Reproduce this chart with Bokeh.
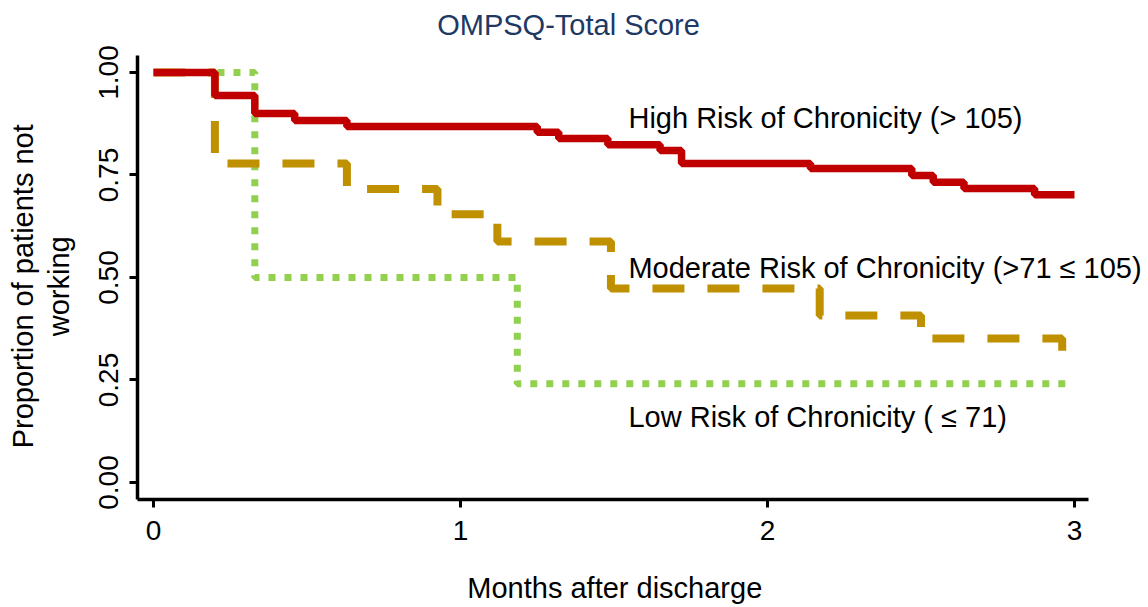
from bokeh.plotting import figure
from bokeh.models import Range1d, FixedTicker, PrintfTickFormatter, Label
from bokeh.embed import file_html
from bokeh.resources import INLINE

# ---- data ----
high_t = [0.00, 0.20, 0.33, 0.46, 0.63, 1.25, 1.32, 1.48, 1.65, 1.72, 2.14, 2.47, 2.54, 2.64, 2.87, 3.00]
high_s = [1.000, 0.944, 0.900, 0.883, 0.868, 0.854, 0.839, 0.824, 0.810, 0.778, 0.766, 0.749, 0.732, 0.717, 0.702, 0.702]

mod_t = [0.00, 0.20, 0.63, 0.925, 1.12, 1.49, 2.17, 2.50, 2.96]
mod_s = [1.000, 0.778, 0.716, 0.654, 0.588, 0.473, 0.407, 0.351, 0.302]

low_t = [0.00, 0.33, 1.185, 2.99]
low_s = [1.00, 0.50, 0.241, 0.241]

x_ticks = [0, 1, 2, 3]
y_ticks = [0.0, 0.25, 0.5, 0.75, 1.0]

title_text = "OMPSQ-Total Score"
x_label = "Months after discharge"
y_label_lines = ["Proportion of patients not", "working"]
ann_high = "High Risk of Chronicity (> 105)"
ann_mod = "Moderate Risk of Chronicity (>71 \u2264 105)"
ann_low = "Low Risk of Chronicity ( \u2264 71)"

FONT = "Liberation Sans"
NB = "\u00a0"  # padding so the axis titles sit where the reference has them

X0, X1 = -0.0521, 3.046      # visible axis extent
Y0, Y1 = -0.0415, 1.041

p = figure(width=1148, height=607, output_backend="svg", toolbar_location=None,
           x_range=Range1d(X0, 3.241), y_range=Range1d(Y0, 1.1756),
           min_border_left=137, min_border_right=0, min_border_top=0, min_border_bottom=108)
p.outline_line_color = None
p.grid.visible = False
p.background_fill_color = "white"
p.border_fill_color = "white"

for ax in (p.xaxis[0], p.yaxis[0]):
    ax.axis_line_width = 3.5
    ax.axis_line_color = "black"
    ax.major_tick_line_width = 3
    ax.major_tick_line_color = "black"
    ax.major_tick_out = 8
    ax.major_tick_in = 0
    ax.minor_tick_line_color = None
    ax.major_label_text_font = FONT
    ax.major_label_text_font_size = "28px"
    ax.major_label_text_color = "black"
    ax.axis_label_text_font = FONT
    ax.axis_label_text_font_size = "29px"
    ax.axis_label_text_font_style = "normal"
    ax.axis_label_text_color = "black"

p.xaxis.bounds = (X0, X1)
p.yaxis.bounds = (Y0, Y1)
p.xaxis.ticker = FixedTicker(ticks=x_ticks)
p.yaxis.ticker = FixedTicker(ticks=y_ticks)
p.yaxis.formatter = PrintfTickFormatter(format="%.2f")
p.yaxis.major_label_orientation = "vertical"
p.xaxis.major_label_standoff = 13
p.yaxis.major_label_standoff = 11
p.xaxis.axis_label = x_label + NB * 7
p.yaxis.axis_label = "\n".join(s + NB * 9 for s in y_label_lines)
p.yaxis.axis_label_text_line_height = 1.1
p.xaxis.axis_label_standoff = 29
p.yaxis.axis_label_standoff = 22

p.step(low_t, low_s, mode="after", line_color="#92D050", line_width=7, line_dash="7 9", line_cap="butt")
p.step(mod_t, mod_s, mode="after", line_color="#BF9000", line_width=8, line_dash="32 23", line_cap="butt")
p.step(high_t, high_s, mode="after", line_color="#C00000", line_width=7.5)

def lab(x, y, t, size="29px", color="black", align="left"):
    p.add_layout(Label(x=x, y=y, text=t, text_font=FONT, text_font_size=size,
                       text_color=color, text_align=align, text_baseline="middle"))

lab(1.547, 0.888, ann_high)
lab(1.547, 0.524, ann_mod)
lab(1.547, 0.159, ann_low)
lab(1.352, 1.115, title_text, size="29px", color="#203864", align="center")

open("out.html", "w").write(file_html(p, INLINE))
